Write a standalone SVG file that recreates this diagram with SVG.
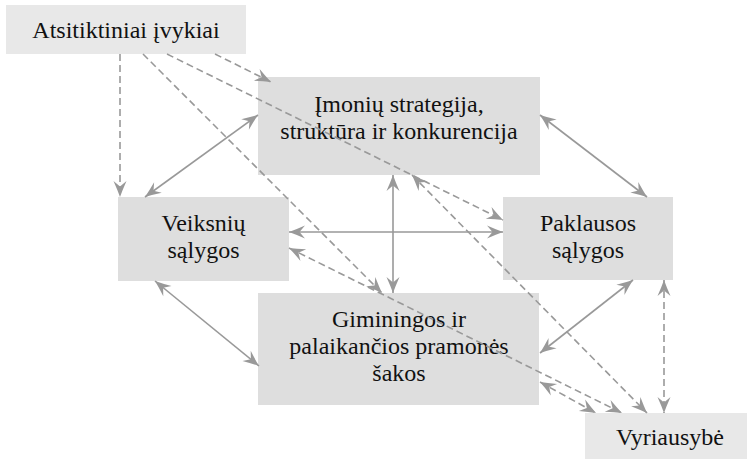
<svg xmlns="http://www.w3.org/2000/svg" width="747" height="459" viewBox="0 0 747 459">
<style>
.box{fill:#dedede}
.box2{fill:#e8e8e8}
.t{font-family:'Liberation Serif',Tinos,'DejaVu Serif',serif;font-size:24px;fill:#111;text-anchor:middle}
.c{stroke:#999;stroke-width:1.6;fill:none;marker-end:url(#ah);marker-start:url(#ah)}
.d{stroke-dasharray:7 4}
.one{marker-start:none}
</style>
<defs>
<marker id="ah" viewBox="-17 -8 18 16" refX="0" refY="0" markerWidth="18" markerHeight="16" markerUnits="userSpaceOnUse" orient="auto-start-reverse">
<path d="M0,0 Q-7,-2.5 -16,-6.5 L-10.5,0 L-16,6.5 Q-7,2.5 0,0 Z" fill="#999"/>
</marker>
</defs>
<g id="n-atsitiktiniai"><rect class="box2" x="6" y="5" width="240" height="49"/><text class="t" x="126" y="38">Atsitiktiniai įvykiai</text></g>
<g id="n-imoniu"><rect class="box" x="258" y="77" width="282" height="98"/><text class="t" x="399" y="112">Įmonių strategija,</text><text class="t" x="399" y="139">struktūra ir konkurencija</text></g>
<g id="n-veiksniu"><rect class="box" x="118" y="197" width="171" height="84"/><text class="t" x="203.5" y="231">Veiksnių</text><text class="t" x="203.5" y="258">sąlygos</text></g>
<g id="n-paklausos"><rect class="box" x="503" y="197" width="170" height="83"/><text class="t" x="588" y="231">Paklausos</text><text class="t" x="588" y="258">sąlygos</text></g>
<g id="n-giminingos"><rect class="box" x="258" y="293" width="281" height="112"/><text class="t" x="399" y="327">Giminingos ir</text><text class="t" x="399" y="354">palaikančios pramonės</text><text class="t" x="399" y="381">šakos</text></g>
<g id="n-vyriausybe"><rect class="box2" x="585" y="413" width="162" height="46"/><text class="t" x="670" y="445">Vyriausybė</text></g>
<g id="connectors">
<line class="c" x1="145" y1="197" x2="258" y2="115"/>
<line class="c" x1="540" y1="115" x2="647" y2="197"/>
<line class="c" x1="289" y1="232" x2="503" y2="232"/>
<line class="c" x1="393" y1="175" x2="393" y2="293"/>
<line class="c" x1="155" y1="281" x2="259" y2="366"/>
<line class="c" x1="633" y1="280" x2="540" y2="353"/>
<line class="c d one" x1="120" y1="54" x2="120" y2="197"/>
<line class="c d one" x1="143" y1="54" x2="382" y2="293"/>
<line class="c d one" x1="167" y1="54" x2="503" y2="220"/>
<line class="c d one" x1="215" y1="54" x2="271" y2="82"/>
<line class="c d" x1="289" y1="248" x2="622" y2="413"/>
<line class="c d" x1="412" y1="175" x2="647" y2="413"/>
<line class="c d" x1="540" y1="382" x2="596" y2="413"/>
<line class="c d" x1="664" y1="280" x2="664" y2="413"/>
</g>
</svg>
